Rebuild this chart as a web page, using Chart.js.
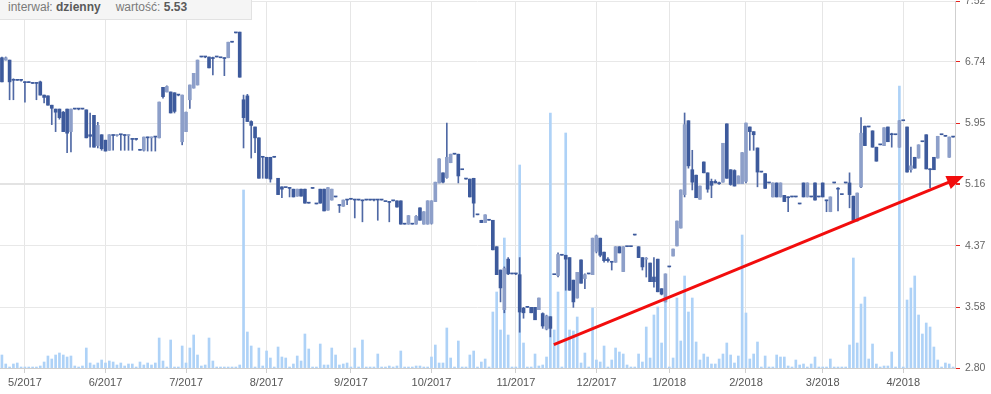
<!DOCTYPE html>
<html>
<head>
<meta charset="utf-8">
<script src="https://cdn.jsdelivr.net/npm/chart.js@4.4.1/dist/chart.umd.min.js"></script>
<style>
  html, body { margin: 0; padding: 0; background: #fff; }
  #wrap { position: relative; width: 991px; height: 394px; }
  #info {
    position: absolute; left: 0; top: 0; width: 252px; height: 20px;
    box-sizing: border-box; padding-left: 8px; line-height: 19px;
    font: 12px "Liberation Sans", Arial, sans-serif; color: #7a7a7a;
    background: #f5f5f5; border-right: 1px solid #e2e2e2; border-bottom: 1px solid #e2e2e2;
  }
  #info b { color: #5a5a5a; }
  #info .gap { display: inline-block; width: 15px; }
</style>
</head>
<body>
<div id="wrap">
  <canvas id="chart" width="991" height="394"></canvas>
  <div id="info">interwał: <b>dzienny</b><span class="gap"></span>wartość: <b>5.53</b></div>
</div>
<script>
// month labels and the index of the first session of each month
const monthLabels = ["5/2017", "6/2017", "7/2017", "8/2017", "9/2017", "10/2017",
  "11/2017", "12/2017", "1/2018", "2/2018", "3/2018", "4/2018"];
const monthStart = [6, 27, 48, 69, 91, 112, 134, 155, 174, 194, 214, 235];

const yTicks = [2.80, 3.58, 4.37, 5.16, 5.95, 6.74, 7.52];

// daily sessions (one value per session)
const open = [
  6.79,6.76,6.76,6.50,6.50,6.50,6.48,6.47,6.47,6.46,
  6.48,6.31,6.30,6.18,6.13,6.13,6.09,6.13,5.84,6.13,
  6.13,6.13,6.12,5.80,6.05,5.66,5.80,5.73,5.60,5.80,
  5.79,5.80,5.80,5.79,5.75,5.74,5.60,5.60,5.77,5.76,
  5.77,5.76,6.41,6.35,6.35,6.34,6.31,5.71,5.84,6.25,
  6.40,6.44,6.80,6.80,6.80,6.79,6.80,6.79,6.79,6.79,
  6.99,7.11,7.12,6.25,6.30,5.97,5.90,5.76,5.51,5.51,
  5.51,5.51,5.24,5.13,5.12,5.11,5.10,5.01,5.10,5.10,
  4.92,5.11,4.91,5.10,5.10,4.83,4.96,5.00,4.90,4.88,
  4.97,4.97,4.96,4.96,4.96,4.96,4.96,4.96,4.96,4.96,
  4.94,4.94,4.95,4.95,4.95,4.65,4.65,4.65,4.65,4.86,
  4.65,4.65,4.66,4.94,5.18,5.31,5.25,5.44,5.55,5.55,
  5.35,5.23,5.23,5.24,4.77,4.70,4.67,4.70,4.70,4.36,
  4.06,3.55,4.20,4.01,4.01,4.00,3.57,3.58,3.58,3.58,
  3.55,3.50,3.30,3.46,4.00,3.99,4.25,4.25,4.22,3.93,
  3.70,4.19,3.95,4.01,4.00,4.30,4.47,4.29,4.20,4.16,
  4.16,4.36,4.04,4.36,4.36,4.51,4.36,4.22,4.20,4.15,
  3.97,4.20,3.82,3.65,4.10,4.24,4.37,4.60,5.03,5.98,
  5.35,5.28,4.97,5.45,5.31,5.20,5.20,5.18,5.19,5.94,
  5.35,5.34,5.17,5.17,5.20,5.90,5.84,5.63,5.32,5.30,
  5.18,5.00,5.18,5.00,5.02,5.00,5.00,5.00,4.91,5.18,
  5.00,5.00,5.18,5.00,5.18,4.95,4.81,5.18,5.11,5.03,
  5.18,5.18,5.01,4.69,5.13,5.91,5.90,5.85,5.64,5.67,
  5.66,5.90,5.80,5.80,5.64,5.98,5.90,5.35,5.51,5.50,
  5.71,5.80,5.36,5.51,5.50,5.80,5.78,5.51,5.77
];
const high = [
  6.80,6.80,6.76,6.52,6.50,6.51,6.48,6.48,6.47,6.47,
  6.49,6.31,6.30,6.18,6.13,6.13,6.10,6.13,6.13,6.13,
  6.13,6.13,6.12,6.08,6.05,5.96,5.80,5.73,5.80,5.80,
  5.80,5.80,5.80,5.80,5.75,5.75,5.61,5.77,5.77,5.77,
  5.77,6.22,6.41,6.43,6.35,6.34,6.31,6.31,6.09,6.44,
  6.59,6.76,6.80,6.80,6.80,6.80,6.80,6.79,6.79,6.99,
  6.99,7.11,7.12,6.31,6.32,5.98,5.90,5.76,5.52,5.51,
  5.51,5.51,5.24,5.13,5.12,5.12,5.10,5.10,5.10,5.10,
  4.92,5.11,4.91,5.10,5.10,5.12,5.10,5.00,4.90,4.96,
  4.97,4.97,4.97,4.96,4.96,4.96,4.96,4.96,4.96,4.96,
  4.94,4.94,4.95,4.95,4.95,4.65,4.76,4.65,4.76,4.86,
  4.81,4.95,4.95,5.19,5.49,5.31,5.95,5.55,5.55,5.55,
  5.35,5.23,5.23,5.24,4.77,4.70,4.77,4.70,4.70,4.36,
  4.06,4.10,4.22,4.01,4.01,4.22,3.58,3.58,3.58,3.58,
  3.70,3.51,3.48,3.46,4.00,4.28,4.25,4.25,4.22,3.93,
  4.03,4.19,4.01,4.01,4.47,4.51,4.47,4.29,4.22,4.17,
  4.36,4.36,4.36,4.36,4.36,4.51,4.36,4.22,4.22,4.15,
  4.22,4.20,3.82,4.01,4.10,4.33,4.69,5.09,6.08,5.98,
  5.60,5.28,5.14,5.45,5.31,5.23,5.22,5.19,5.69,5.94,
  5.35,5.35,5.27,5.57,5.95,5.90,5.84,5.63,5.32,5.30,
  5.18,5.18,5.18,5.18,5.02,5.00,5.00,5.00,4.91,5.18,
  5.18,5.00,5.18,5.00,5.18,4.96,5.00,5.18,5.12,5.03,
  5.18,5.31,5.01,5.05,6.02,5.91,5.90,5.85,5.64,5.67,
  5.89,5.90,5.82,5.80,5.98,5.98,5.90,5.64,5.51,5.67,
  5.71,5.80,5.36,5.51,5.78,5.80,5.78,5.77,5.77
];
const low = [
  6.48,6.76,6.25,6.25,6.50,6.49,6.22,6.47,6.46,6.25,
  6.31,6.21,6.18,5.93,5.84,6.00,5.84,5.57,5.58,6.13,
  6.12,6.13,5.76,5.64,5.64,5.63,5.60,5.59,5.60,5.60,
  5.78,5.60,5.60,5.60,5.60,5.73,5.60,5.59,5.59,5.59,
  5.59,5.76,6.27,6.35,6.08,6.08,6.30,5.67,5.84,6.14,
  6.40,6.44,6.80,6.79,6.66,6.57,6.80,6.79,6.56,6.79,
  6.99,7.11,6.54,5.63,5.97,5.50,5.57,5.24,5.24,5.24,
  5.19,5.51,5.03,4.99,5.12,5.00,5.00,5.01,5.01,4.92,
  4.92,5.11,4.91,4.92,4.82,4.83,4.96,5.00,4.80,4.88,
  4.90,4.97,4.73,4.96,4.68,4.96,4.96,4.95,4.70,4.96,
  4.94,4.68,4.95,4.87,4.65,4.65,4.65,4.65,4.65,4.70,
  4.65,4.65,4.65,4.94,5.18,5.18,5.24,5.44,5.55,5.18,
  5.35,5.23,5.00,4.74,4.77,4.67,4.67,4.70,4.32,4.00,
  3.65,3.51,4.00,4.01,4.00,3.26,3.44,3.58,3.51,3.42,
  3.55,3.31,3.29,3.20,4.00,3.97,4.25,3.80,3.80,3.58,
  3.70,3.89,3.82,4.01,4.00,4.28,4.23,4.16,4.16,4.06,
  4.16,4.28,4.04,4.36,4.36,4.51,4.22,4.06,3.97,3.91,
  3.84,3.78,3.74,3.65,4.10,4.24,4.37,4.60,5.00,5.37,
  5.09,4.99,4.97,5.31,5.06,4.99,5.18,5.16,5.19,5.24,
  5.15,5.14,5.17,5.17,5.18,5.60,5.60,5.13,5.32,5.11,
  5.18,5.00,5.00,5.00,4.94,4.81,5.00,5.00,4.91,5.00,
  5.00,5.00,4.96,5.00,5.00,4.81,4.81,5.18,4.82,5.03,
  5.18,4.86,4.70,4.69,5.12,5.66,5.90,5.64,5.46,5.67,
  5.66,5.71,5.64,5.80,5.64,5.98,5.32,5.32,5.37,5.50,
  5.71,5.36,5.12,5.35,5.50,5.80,5.78,5.51,5.77
];
const close = [
  6.48,6.79,6.48,6.50,6.50,6.50,6.47,6.47,6.46,6.46,
  6.31,6.28,6.18,6.14,6.09,6.02,5.84,5.82,6.13,6.13,
  6.13,6.13,5.76,5.78,5.64,5.92,5.62,5.59,5.80,5.79,
  5.80,5.80,5.79,5.80,5.74,5.74,5.60,5.77,5.76,5.77,
  5.77,6.22,6.29,6.42,6.08,6.10,6.31,6.31,6.09,6.44,
  6.59,6.76,6.80,6.80,6.66,6.78,6.80,6.79,6.78,6.99,
  6.99,7.11,6.54,6.02,5.97,5.92,5.76,5.24,5.51,5.24,
  5.23,5.51,5.03,5.10,5.12,5.11,5.00,5.10,5.01,4.92,
  4.92,5.11,4.91,4.92,4.82,5.12,5.10,5.00,4.89,4.96,
  4.96,4.97,4.96,4.96,4.95,4.96,4.96,4.96,4.96,4.96,
  4.94,4.93,4.95,4.87,4.65,4.65,4.76,4.65,4.75,4.70,
  4.81,4.95,4.95,5.19,5.49,5.19,5.51,5.55,5.55,5.27,
  5.35,5.23,5.00,4.92,4.77,4.67,4.77,4.70,4.32,4.00,
  3.83,4.08,4.01,4.01,4.01,3.52,3.51,3.58,3.51,3.42,
  3.70,3.34,3.47,3.31,4.00,4.26,4.25,4.20,3.80,3.65,
  4.03,3.89,4.00,4.01,4.47,4.50,4.25,4.18,4.18,4.16,
  4.36,4.28,4.36,4.36,4.36,4.51,4.22,4.10,4.21,3.91,
  3.91,3.78,3.75,4.01,4.10,4.33,4.69,5.09,5.93,5.40,
  5.19,4.99,5.14,5.31,5.10,5.15,5.18,5.17,5.69,5.24,
  5.16,5.14,5.27,5.57,5.95,5.84,5.80,5.32,5.32,5.11,
  5.18,5.18,5.00,5.18,4.94,4.99,5.00,5.00,4.91,5.00,
  5.18,5.00,4.96,5.00,5.00,4.95,5.00,5.18,5.10,5.03,
  5.18,5.03,4.70,5.05,5.82,5.66,5.90,5.64,5.46,5.67,
  5.89,5.71,5.80,5.80,5.98,5.98,5.32,5.40,5.37,5.67,
  5.71,5.36,5.35,5.35,5.78,5.80,5.78,5.77,5.77
];
// volume, thousand shares
const volume = [
  13,4,1,4,5,1,1,1,1,1,
  2,6,12,9,13,15,13,11,12,2,
  1,2,20,5,3,5,8,5,7,6,
  3,5,2,4,4,1,6,3,5,3,
  5,30,7,1,28,1,1,22,5,20,
  33,13,2,3,30,7,1,1,1,1,
  1,1,3,178,36,22,1,20,2,17,
  10,1,21,11,10,1,4,12,7,34,
  19,1,1,24,3,3,20,13,3,4,
  5,1,20,1,28,1,1,1,14,1,
  1,2,1,2,17,1,1,1,2,2,
  1,1,11,23,5,5,40,10,1,27,
  1,1,13,17,1,6,9,1,56,76,
  38,130,33,1,1,203,25,1,1,14,
  2,3,11,255,38,76,1,235,38,37,
  51,5,15,1,60,8,6,22,1,8,
  20,16,14,3,1,1,14,6,41,10,
  53,61,25,76,1,10,70,27,92,56,
  70,26,8,14,11,4,4,9,14,25,
  13,5,12,133,55,9,14,26,1,12,
  1,1,13,11,11,2,1,8,3,4,
  1,4,11,1,1,1,9,1,1,1,
  1,23,110,25,64,71,9,24,4,1,
  2,2,16,1,282,1,68,80,92,53,
  34,45,41,21,8,1,5,4,1
];

// trend arrow drawn by hand on the chart: [session index, price]
const arrowFrom = [143.9, 3.10];
const arrowTo = [250.8, 5.27];

const DARK = "#3d5a9c";
const LIGHT = "#8d9fc9";

const bodies = open.map((o, i) => ({ x: i, y: [o, close[i]] }));
const wicks = low.map((l, i) => ({ x: i, y: [l, high[i]] }));
const vols = volume.map((v, i) => ({ x: i, y: v }));

const arrowPlugin = {
  id: "trendArrow",
  afterDatasetsDraw(chart) {
    const { ctx, scales } = chart;
    const x0 = scales.x.getPixelForValue(arrowFrom[0]);
    const y0 = scales.y.getPixelForValue(arrowFrom[1]);
    const x1 = scales.x.getPixelForValue(arrowTo[0]);
    const y1 = scales.y.getPixelForValue(arrowTo[1]);
    const a = Math.atan2(y1 - y0, x1 - x0);
    const c = Math.cos(a), s = Math.sin(a);
    ctx.save();
    ctx.strokeStyle = "#f20d0d";
    ctx.fillStyle = "#f20d0d";
    ctx.lineWidth = 3;
    ctx.beginPath();
    ctx.moveTo(x0, y0);
    ctx.lineTo(x1 - 12 * c, y1 - 12 * s);
    ctx.stroke();
    ctx.beginPath();
    ctx.moveTo(x1, y1);
    ctx.lineTo(x1 - 17 * c + 7 * s, y1 - 17 * s - 7 * c);
    ctx.lineTo(x1 - 17 * c - 7 * s, y1 - 17 * s + 7 * c);
    ctx.closePath();
    ctx.fill();
    ctx.restore();
  }
};

new Chart(document.getElementById("chart"), {
  type: "bar",
  data: {
    datasets: [
      {
        label: "wolumen",
        data: vols,
        yAxisID: "yv",
        backgroundColor: "#aed2f7",
        barThickness: 2,
        grouped: false,
        order: 3
      },
      {
        label: "cień",
        data: wicks,
        yAxisID: "y",
        backgroundColor: "#5069a5",
        barThickness: 1,
        grouped: false,
        order: 2
      },
      {
        label: "kurs",
        data: bodies,
        yAxisID: "y",
        backgroundColor: bodies.map(b => b.y[1] > b.y[0] ? LIGHT : DARK),
        barThickness: 3,
        minBarLength: 1,
        grouped: false,
        order: 1
      }
    ]
  },
  options: {
    responsive: false,
    animation: false,
    devicePixelRatio: 1,
    layout: { padding: { top: 1, left: 0, right: 0, bottom: 0 } },
    plugins: { legend: { display: false }, tooltip: { enabled: false } },
    scales: {
      x: {
        type: "linear",
        offset: false,
        min: -0.5,
        max: 248.5,
        afterBuildTicks: scale => { scale.ticks = monthStart.map(v => ({ value: v })); },
        afterFit: scale => { scale.height = 26; scale.paddingLeft = 0; scale.paddingRight = 0; },
        ticks: {
          autoSkip: false,
          maxRotation: 0,
          padding: 3,
          color: "#555",
          font: { family: "'Liberation Sans', Arial", size: 11 },
          callback: v => monthLabels[monthStart.indexOf(v)]
        },
        grid: { offset: false, color: "#e6e6e6", tickColor: "#cfcfcf", tickLength: 5 },
        border: { color: "#cfcfcf" }
      },
      y: {
        position: "right",
        min: 2.80,
        max: 7.52,
        afterBuildTicks: scale => { scale.ticks = yTicks.map(v => ({ value: v })); },
        afterFit: scale => { scale.width = 36; scale.paddingTop = 0; scale.paddingBottom = 0; },
        ticks: {
          padding: 5,
          color: "#666",
          font: { family: "'Liberation Sans', Arial", size: 10.5 },
          callback: v => v.toFixed(2)
        },
        grid: {
          color: c => (c.tick && c.tick.value === 5.16 ? "#e3e3e3" : "#e8e8e8"),
          lineWidth: c => (c.tick && c.tick.value === 5.16 ? 2 : 1),
          tickColor: "#e8231d",
          tickLength: 5
        },
        border: { color: "#cfcfcf" }
      },
      yv: {
        display: false,
        min: 0,
        max: 367
      }
    }
  },
  plugins: [arrowPlugin]
});
</script>
</body>
</html>
